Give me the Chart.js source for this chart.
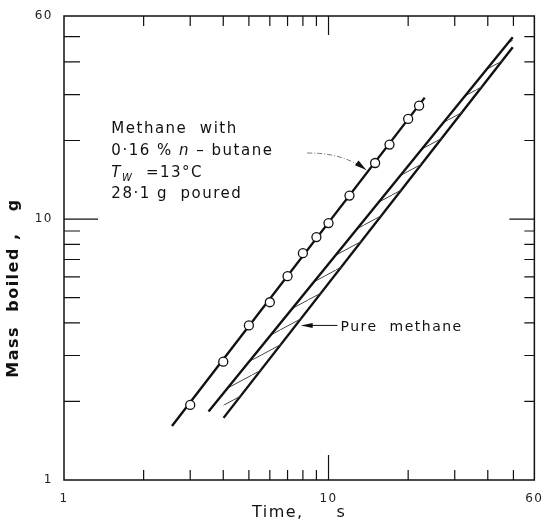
<!DOCTYPE html>
<html>
<head>
<meta charset="utf-8">
<script src="https://cdn.jsdelivr.net/npm/chart.js@4"></script>
<style>
  body { margin: 0; background: #fff; }
  #wrap { width: 546px; height: 526px; }
</style>
</head>
<body>
<div id="wrap"><canvas id="massChart"></canvas></div>
<script>
// measured points, methane + 0.16 % n-butane
const timeS = [3, 4, 5, 6, 7, 8, 9, 10, 12, 15, 17, 20, 22];
const massG = [1.94, 2.84, 3.91, 4.80, 6.04, 7.40, 8.53, 9.65, 12.3, 16.4, 19.3, 24.2, 27.2];

// line drawn through the points
const fitTime = [2.56, 23.1];
const fitMass = [1.61, 29.2];

// pure methane band (two edges)
const pureUpperTime = [3.52, 49.7];
const pureUpperMass = [1.83, 49.7];
const pureLowerTime = [4.01, 49.7];
const pureLowerMass = [1.73, 45.5];

// axes
const tickLabels = [1, 10, 60];
const minorTicks = [2, 3, 4, 5, 6, 7, 8, 9, 20, 30, 40, 50];
const majorTicks = [10];

const pts = (xs, ys) => xs.map((v, i) => ({ x: v, y: ys[i] }));

// hatch for the band
const hatch = document.createElement('canvas');
hatch.width = 28;
hatch.height = 15;
const hc = hatch.getContext('2d');
hc.strokeStyle = '#444';
hc.lineWidth = 1;
hc.beginPath();
hc.moveTo(0, 15);
hc.lineTo(28, 0);
hc.stroke();
const hatchPattern = hc.createPattern(hatch, 'repeat');

const FONT = '"DejaVu Sans", sans-serif';

const frameAndTicks = {
    id: 'frameAndTicks',
    beforeDraw(chart) {
        chart.ctx.letterSpacing = '1.5px';
    },
    afterDatasetsDraw(chart) {
        const { ctx, chartArea: a, scales: { x, y } } = chart;
        ctx.save();
        ctx.strokeStyle = '#111';
        ctx.lineWidth = 1.5;
        ctx.strokeRect(a.left, a.top, a.right - a.left, a.bottom - a.top);

        ctx.lineWidth = 1.2;
        ctx.beginPath();
        minorTicks.forEach(v => {
            const px = x.getPixelForValue(v);
            ctx.moveTo(px, a.bottom); ctx.lineTo(px, a.bottom - 10);
            ctx.moveTo(px, a.top); ctx.lineTo(px, a.top + 10);
            const py = y.getPixelForValue(v);
            ctx.moveTo(a.left, py); ctx.lineTo(a.left + 16, py);
            ctx.moveTo(a.right, py); ctx.lineTo(a.right - 10, py);
        });
        majorTicks.forEach(v => {
            const px = x.getPixelForValue(v);
            ctx.moveTo(px, a.bottom); ctx.lineTo(px, a.bottom - 25);
            ctx.moveTo(px, a.top); ctx.lineTo(px, a.top + 19);
            const py = y.getPixelForValue(v);
            ctx.moveTo(a.left, py); ctx.lineTo(a.left + 34, py);
            ctx.moveTo(a.right, py); ctx.lineTo(a.right - 25, py);
        });
        ctx.stroke();
        ctx.restore();
    },
    afterDraw(chart) {
        const { ctx, scales: { x, y } } = chart;
        ctx.save();
        ctx.fillStyle = '#111';
        ctx.strokeStyle = '#111';
        ctx.letterSpacing = '1.5px';

        // y title
        ctx.save();
        ctx.translate(14, 288);
        ctx.rotate(-Math.PI / 2);
        ctx.font = 'bold 16px ' + FONT;
        ctx.textAlign = 'center';
        ctx.textBaseline = 'middle';
        ctx.fillText('Mass  boiled ,   g', 0, 0);
        ctx.restore();

        // label for points
        const lx = x.getPixelForValue(1.51);
        let ly = y.getPixelForValue(21.4);
        const reg = '15px ' + FONT;
        const ita = 'italic 15px ' + FONT;
        ctx.textBaseline = 'alphabetic';
        ctx.textAlign = 'left';
        ctx.font = reg;
        ctx.fillText('Methane  with', lx, ly);
        ly += 22;
        let cx = lx;
        const put = (t, f, dy = 0) => { ctx.font = f; ctx.fillText(t, cx, ly + dy); cx += ctx.measureText(t).width; };
        put('0·16 % ', reg);
        put('n', ita);
        put(' – butane', reg);
        ly += 22;
        cx = lx;
        put('T', ita);
        put('W', 'italic 10px ' + FONT, 4);
        put('  =13°C', reg);
        ly += 21;
        ctx.font = reg;
        ctx.fillText('28·1 g  poured', lx, ly);

        // curved arrow to the points line
        const s = { x: x.getPixelForValue(8.3), y: y.getPixelForValue(17.9) };
        const c = { x: x.getPixelForValue(11.3), y: y.getPixelForValue(18.0) };
        const t = { x: x.getPixelForValue(13.9), y: y.getPixelForValue(15.4) };
        ctx.save();
        ctx.lineWidth = 0.8;
        ctx.strokeStyle = '#555';
        ctx.setLineDash([5, 2, 1, 2]);
        ctx.beginPath();
        ctx.moveTo(s.x, s.y);
        ctx.quadraticCurveTo(c.x, c.y, t.x, t.y);
        ctx.stroke();
        ctx.restore();
        arrowHead(ctx, c, t, 12, 3);

        // pure methane
        const px = x.getPixelForValue(11.1);
        const py = y.getPixelForValue(3.71);
        ctx.font = '14px ' + FONT;
        ctx.fillText('Pure  methane', px, py);
        const tail = { x: px - 3, y: py - 6 };
        const tip = { x: x.getPixelForValue(7.85), y: py - 6 };
        ctx.lineWidth = 1;
        ctx.beginPath();
        ctx.moveTo(tail.x, tail.y);
        ctx.lineTo(tip.x + 8, tip.y);
        ctx.stroke();
        arrowHead(ctx, tail, tip, 12, 2.5);
        ctx.restore();
    }
};

function arrowHead(ctx, from, to, len, half) {
    const ang = Math.atan2(to.y - from.y, to.x - from.x);
    ctx.save();
    ctx.translate(to.x, to.y);
    ctx.rotate(ang);
    ctx.beginPath();
    ctx.moveTo(0, 0);
    ctx.lineTo(-len, -half);
    ctx.lineTo(-len, half);
    ctx.closePath();
    ctx.fillStyle = '#111';
    ctx.fill();
    ctx.restore();
}

new Chart(document.getElementById('massChart'), {
    type: 'line',
    data: {
        datasets: [
            {
                label: 'Methane with 0.16 % n-butane',
                data: pts(timeS, massG),
                showLine: false,
                pointRadius: 4.5,
                pointBackgroundColor: '#fff',
                pointBorderColor: '#111',
                pointBorderWidth: 1.3
            },
            {
                label: 'fit',
                data: pts(fitTime, fitMass),
                borderColor: '#111',
                borderWidth: 2.4,
                pointRadius: 0,
                fill: false
            },
            {
                label: 'Pure methane (upper)',
                data: pts(pureUpperTime, pureUpperMass),
                borderColor: '#111',
                borderWidth: 2.4,
                pointRadius: 0,
                fill: '+1',
                backgroundColor: hatchPattern
            },
            {
                label: 'Pure methane (lower)',
                data: pts(pureLowerTime, pureLowerMass),
                borderColor: '#111',
                borderWidth: 2.4,
                pointRadius: 0,
                fill: false
            }
        ]
    },
    options: {
        responsive: true,
        maintainAspectRatio: false,
        animation: false,
        layout: {
            padding: { top: 16, right: 8, left: 0, bottom: 0 }
        },
        plugins: {
            legend: { display: false },
            tooltip: { enabled: false }
        },
        scales: {
            x: {
                type: 'logarithmic',
                min: 1,
                max: 60,
                grid: { display: false },
                border: { display: false },
                afterBuildTicks: scale => { scale.ticks = tickLabels.map(v => ({ value: v })); },
                afterFit: scale => { scale.height = 46; },
                ticks: {
                    autoSkip: false,
                    maxRotation: 0,
                    padding: 4,
                    color: '#222',
                    font: { family: FONT, size: 12 },
                    callback: v => String(v)
                },
                title: {
                    display: true,
                    text: 'Time,     s',
                    color: '#111',
                    font: { family: FONT, size: 16 },
                    padding: { top: 0, bottom: 4 }
                }
            },
            y: {
                type: 'logarithmic',
                min: 1,
                max: 60,
                grid: { display: false },
                border: { display: false },
                afterBuildTicks: scale => { scale.ticks = tickLabels.map(v => ({ value: v })); },
                afterFit: scale => { scale.width = 64; },
                ticks: {
                    autoSkip: false,
                    padding: 3,
                    color: '#222',
                    font: { family: FONT, size: 12 },
                    callback: v => String(v)
                }
            }
        }
    },
    plugins: [frameAndTicks]
});
</script>
</body>
</html>
